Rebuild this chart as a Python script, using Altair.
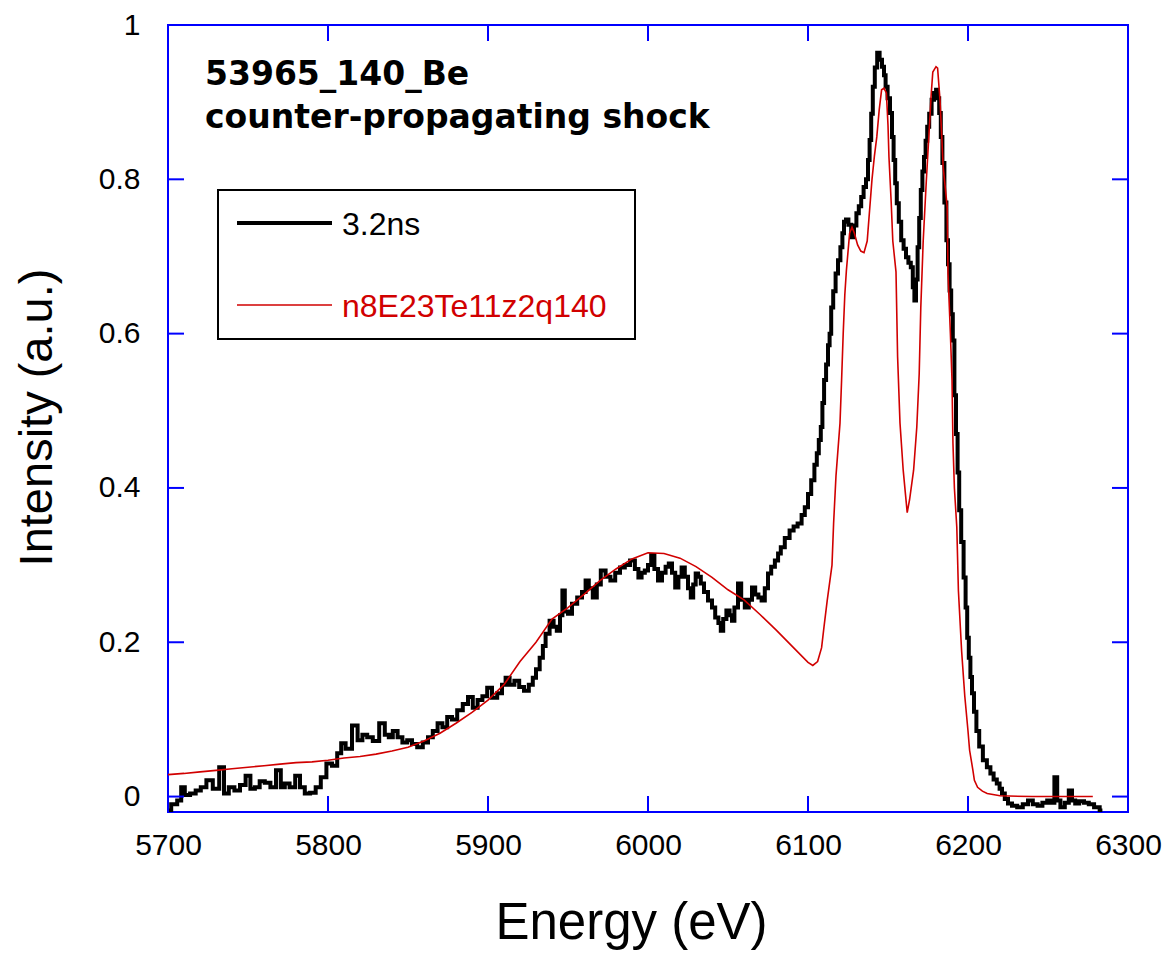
import altair as alt
import pandas as pd

# ---- measured spectrum (3.2ns) ----
energy_exp = [5700, 5704, 5707.5, 5709, 5712, 5715.6, 5719, 5722, 5726, 5730, 5734, 5736, 5740, 5743, 5747,
              5750, 5753, 5755.6, 5759, 5762, 5766, 5769, 5772, 5774, 5778, 5781, 5784, 5787, 5790.6, 5794,
              5797, 5801, 5804, 5807.5, 5809, 5813, 5817, 5820, 5823, 5826, 5830, 5834, 5837, 5839, 5842,
              5845, 5848, 5851, 5854, 5857.5, 5861, 5864, 5867, 5870, 5873, 5876, 5879, 5882.5, 5886, 5889,
              5892, 5895, 5898, 5901, 5904, 5907.5, 5910, 5912, 5915, 5918, 5921, 5924, 5927, 5929, 5931,
              5933.6, 5935, 5937, 5940, 5942, 5944, 5946, 5947, 5949, 5951, 5954, 5957.5, 5960, 5962, 5964,
              5967, 5969, 5972, 5975, 5978, 5981, 5984, 5987, 5990.6, 5993, 5995, 5997, 5999, 6001, 6003,
              6005, 6007.5, 6010, 6012, 6014, 6016, 6018, 6020, 6022, 6024, 6026, 6027.5, 6029, 6030.6, 6032,
              6034, 6036, 6039, 6041, 6043, 6045, 6046, 6048, 6050, 6052, 6053, 6055, 6057.5, 6059, 6062,
              6064, 6066, 6068, 6070, 6072, 6074, 6076, 6078, 6080.6, 6082, 6084, 6087, 6090, 6092, 6095,
              6097, 6099, 6101, 6103, 6105, 6106, 6107.5, 6108.5, 6109.5, 6110.6, 6112, 6113, 6114, 6115, 6116.5,
              6118, 6119.5, 6121, 6122, 6123, 6124.5, 6126, 6128, 6129.5, 6131, 6132.5, 6134, 6135.5, 6137, 6138,
              6139, 6140, 6141, 6142.5, 6144, 6145.5, 6147, 6148, 6149, 6150.5, 6152, 6153, 6154, 6155, 6156,
              6157.5, 6159, 6160.5, 6162, 6163.5, 6165, 6166, 6167, 6168, 6169, 6170, 6171, 6172, 6173, 6174,
              6175, 6176.5, 6178, 6179.5, 6180.6, 6181.5, 6182.5, 6183.5, 6184.5, 6186, 6187, 6188, 6189, 6190, 6191,
              6192, 6193, 6194, 6195, 6196.5, 6198, 6199, 6200, 6201, 6202, 6203, 6204.5, 6206, 6208, 6210.6,
              6213, 6215, 6217, 6219, 6220.5, 6222, 6224, 6226, 6229, 6232.5, 6236, 6239, 6242, 6245, 6248,
              6251, 6253, 6255, 6256.5, 6259, 6262, 6264, 6266, 6268, 6271, 6274, 6277, 6280.6, 6284]
intensity_exp = [-0.018, -0.010, -0.005, 0.012, 0.002, 0.004, 0.008, 0.012, 0.021, 0.010, 0.038, 0.004, 0.012, 0.008, 0.015,
                 0.027, 0.010, 0.012, 0.020, 0.018, 0.012, 0.034, 0.012, 0.017, 0.012, 0.027, 0.012, 0.004, 0.005, 0.012,
                 0.025, 0.043, 0.040, 0.056, 0.069, 0.062, 0.092, 0.073, 0.080, 0.077, 0.072, 0.095, 0.080, 0.077, 0.085,
                 0.077, 0.070, 0.073, 0.068, 0.064, 0.070, 0.077, 0.085, 0.095, 0.090, 0.103, 0.100, 0.112, 0.120, 0.129,
                 0.115, 0.125, 0.130, 0.141, 0.128, 0.134, 0.145, 0.154, 0.145, 0.150, 0.142, 0.137, 0.145, 0.154, 0.165,
                 0.180, 0.195, 0.211, 0.228, 0.220, 0.215, 0.235, 0.267, 0.240, 0.237, 0.250, 0.258, 0.265, 0.280, 0.270,
                 0.258, 0.275, 0.293, 0.285, 0.280, 0.290, 0.297, 0.300, 0.306, 0.295, 0.284, 0.290, 0.293, 0.300, 0.313,
                 0.295, 0.280, 0.290, 0.298, 0.302, 0.290, 0.271, 0.285, 0.297, 0.285, 0.270, 0.258, 0.275, 0.289, 0.285,
                 0.276, 0.265, 0.254, 0.245, 0.232, 0.225, 0.215, 0.230, 0.241, 0.235, 0.228, 0.245, 0.276, 0.255, 0.245,
                 0.255, 0.271, 0.262, 0.258, 0.254, 0.270, 0.289, 0.298, 0.306, 0.315, 0.323, 0.335, 0.345, 0.350, 0.354,
                 0.365, 0.375, 0.392, 0.410, 0.430, 0.445, 0.462, 0.479, 0.510, 0.540, 0.560, 0.585, 0.600, 0.634, 0.655,
                 0.678, 0.695, 0.712, 0.730, 0.745, 0.748, 0.741, 0.725, 0.740, 0.756, 0.765, 0.777, 0.790, 0.800, 0.825,
                 0.851, 0.885, 0.920, 0.945, 0.964, 0.955, 0.946, 0.935, 0.920, 0.905, 0.886, 0.855, 0.825, 0.795, 0.769,
                 0.745, 0.721, 0.710, 0.699, 0.692, 0.686, 0.660, 0.643, 0.670, 0.712, 0.750, 0.786, 0.810, 0.829, 0.850,
                 0.868, 0.885, 0.903, 0.912, 0.916, 0.905, 0.886, 0.855, 0.821, 0.770, 0.721, 0.690, 0.656, 0.625, 0.591,
                 0.520, 0.470, 0.420, 0.371, 0.330, 0.284, 0.245, 0.206, 0.180, 0.155, 0.134, 0.110, 0.085, 0.065, 0.047,
                 0.038, 0.030, 0.022, 0.017, 0.010, 0.004, -0.003, -0.009, -0.012, -0.014, -0.010, -0.005, -0.010, -0.012, -0.008,
                 -0.005, -0.008, 0.025, -0.005, -0.014, -0.008, 0.008, -0.005, -0.009, -0.006, -0.008, -0.010, -0.014, -0.018]

# ---- model spectrum (n8E23Te11z2q140) ----
energy_model = [5700, 5710, 5720, 5730, 5740, 5750, 5760, 5770, 5780, 5790, 5800, 5810, 5820, 5830, 5840,
                5850, 5860, 5870, 5880, 5890, 5900, 5910, 5920, 5930, 5940, 5950, 5960, 5970, 5980, 5990,
                6000, 6010, 6020, 6030, 6040, 6050, 6060, 6070, 6080, 6090, 6100, 6103, 6106, 6108.5, 6110,
                6112, 6115, 6116, 6117.5, 6120, 6121, 6122, 6123, 6124, 6126, 6127.5, 6129, 6131, 6133, 6135,
                6137, 6138.5, 6140, 6141.5, 6143, 6144.5, 6146, 6147.5, 6149, 6150, 6150.6, 6152, 6153, 6155, 6156,
                6157.5, 6159.5, 6161, 6162, 6163.5, 6166, 6168, 6169.5, 6170.5, 6172, 6174, 6176, 6177, 6178, 6180,
                6181, 6182.5, 6184.5, 6187, 6187.5, 6189, 6190, 6190.6, 6191.5, 6193, 6194, 6196, 6198, 6200, 6201,
                6203, 6204, 6206, 6209, 6212, 6220, 6240, 6260, 6278]
intensity_model = [0.0285, 0.030, 0.032, 0.034, 0.036, 0.038, 0.040, 0.042, 0.044, 0.045, 0.047, 0.050, 0.052, 0.055, 0.059,
                   0.064, 0.072, 0.082, 0.095, 0.109, 0.125, 0.145, 0.175, 0.200, 0.230, 0.245, 0.262, 0.280, 0.295, 0.308,
                   0.316, 0.315, 0.309, 0.298, 0.284, 0.268, 0.255, 0.236, 0.216, 0.195, 0.174, 0.170, 0.175, 0.193, 0.220,
                   0.254, 0.300, 0.354, 0.416, 0.484, 0.540, 0.600, 0.650, 0.682, 0.730, 0.738, 0.730, 0.715, 0.707, 0.705,
                   0.720, 0.760, 0.800, 0.830, 0.855, 0.890, 0.916, 0.918, 0.912, 0.870, 0.829, 0.770, 0.720, 0.680, 0.570,
                   0.484, 0.423, 0.390, 0.368, 0.385, 0.423, 0.479, 0.548, 0.634, 0.720, 0.800, 0.873, 0.910, 0.939, 0.946,
                   0.944, 0.903, 0.816, 0.764, 0.678, 0.600, 0.540, 0.458, 0.400, 0.349, 0.267, 0.189, 0.130, 0.085, 0.060,
                   0.035, 0.021, 0.012, 0.007, 0.004, 0.001, 0.000, 0.000, 0.000]

x_ticks = [5700, 5800, 5900, 6000, 6100, 6200, 6300]
y_ticks = [0, 0.2, 0.4, 0.6, 0.8, 1]
legend_labels = ["3.2ns", "n8E23Te11z2q140"]
title_lines = ["53965_140_Be", "counter-propagating shock"]

W, H = 960, 787
BLUE = "#0000ff"
RED = "#d10000"
FONT = "Liberation Sans"

xs = alt.Scale(domain=[5700, 6300], nice=False, zero=False)
ys = alt.Scale(domain=[-0.02, 1], nice=False, zero=False)

x_axis = alt.Axis(
    values=x_ticks, format="d", title="Energy (eV)", labelFontSize=30, labelFont=FONT, labelColor="black",
    labelPadding=18, labelFlush=False, labelOverlap=False, labelBound=False,
    titleFontSize=51, titleFont=FONT, titleFontWeight="normal", titleColor="black",
    titleX=463, titleY=126, titleBaseline="alphabetic", domain=False, ticks=False, grid=False)
y_axis = alt.Axis(
    values=y_ticks, format="~g", title="Intensity (a.u.)", labelFontSize=30, labelFont=FONT,
    labelColor="black", labelPadding=28, labelFlush=False, labelOverlap=False, labelBound=False,
    titleFontSize=47, titleFont=FONT, titleFontWeight="normal",
    titleColor="black", titleX=-117, titleY=392, titleBaseline="alphabetic", domain=False, ticks=False,
    grid=False)


def X(field):
    return alt.X(field, scale=xs, axis=x_axis)


def Y(field):
    return alt.Y(field, scale=ys, axis=y_axis)


exp_df = pd.DataFrame({"E": energy_exp, "I": intensity_exp})
mod_df = pd.DataFrame({"E": energy_model, "I": intensity_model})

exp_line = alt.Chart(exp_df).mark_line(color="black", strokeWidth=4, interpolate="step", clip=True).encode(
    x=X("E:Q"), y=Y("I:Q"))

mod_line = alt.Chart(mod_df).mark_line(color=RED, strokeWidth=1.6, clip=True).encode(
    x=X("E:Q"), y=Y("I:Q"))

yt = pd.DataFrame({"E": [None] * len(y_ticks), "I": y_ticks})
xt = pd.DataFrame({"E": x_ticks, "I": [None] * len(x_ticks)})
tick_style = dict(color=BLUE, strokeWidth=2)
ticks_left = alt.Chart(yt).mark_rule(**tick_style).encode(
    y=Y("I:Q"), x=alt.value(0), x2=alt.value(16))
ticks_right = alt.Chart(yt).mark_rule(**tick_style).encode(
    y=Y("I:Q"), x=alt.value(W - 16), x2=alt.value(W))
ticks_bottom = alt.Chart(xt).mark_rule(**tick_style).encode(
    x=X("E:Q"), y=alt.value(H - 16), y2=alt.value(H))
ticks_top = alt.Chart(xt).mark_rule(**tick_style).encode(
    x=X("E:Q"), y=alt.value(0), y2=alt.value(16))

box = alt.Chart(pd.DataFrame({"a": [0]})).mark_rect(fill="white", stroke="black", strokeWidth=2).encode(
    x=alt.value(50), x2=alt.value(467), y=alt.value(165), y2=alt.value(314))

legend_layers = []
for lab, col, sw, yy in zip(legend_labels, ["black", RED], [4, 1.6], [198, 280]):
    d = pd.DataFrame({"label": [lab]})
    legend_layers.append(alt.Chart(d).mark_rule(color=col, strokeWidth=sw).encode(
        x=alt.value(69), x2=alt.value(164), y=alt.value(yy)))
    legend_layers.append(alt.Chart(d).mark_text(align="left", baseline="middle", fontSize=32, font=FONT,
                                                color=col).encode(
        x=alt.value(174), y=alt.value(yy + 2), text="label:N"))

title_layers = []
for line, yy in zip(title_lines, [60, 103]):
    d = pd.DataFrame({"t": [line]})
    title_layers.append(alt.Chart(d).mark_text(align="left", baseline="alphabetic", fontSize=33,
                                               font="DejaVu Sans", fontWeight="bold", color="black").encode(
        x=alt.value(37), y=alt.value(yy), text="t:N"))

chart = alt.layer(
    exp_line, mod_line,
    ticks_left, ticks_right, ticks_bottom, ticks_top,
    box, *legend_layers, *title_layers,
).properties(
    width=W, height=H,
    padding={"left": 168, "top": 25, "right": 45, "bottom": 147},
    autosize=alt.AutoSizeParams(type="none"),
    background="white",
).configure_view(
    stroke=BLUE, strokeWidth=2
)

chart.save("out.html", embed_options={"renderer": "svg", "actions": False})
